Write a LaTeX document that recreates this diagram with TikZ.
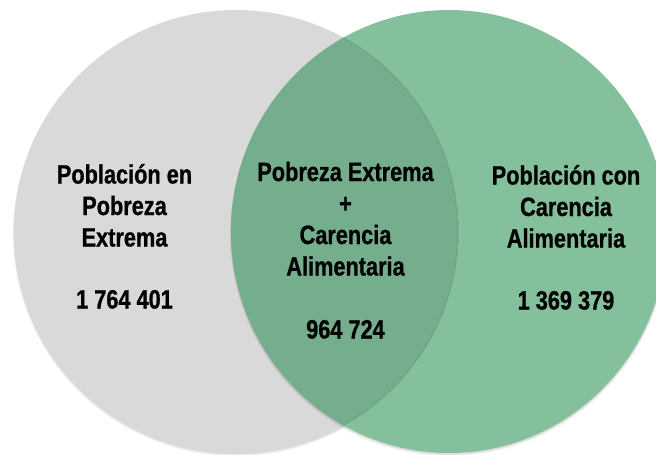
\documentclass[tikz,border=0pt]{standalone}
\usepackage{fontspec}
\setmainfont{Liberation Sans}[FakeStretch=0.82,BoldFeatures={FakeBold=0.8}]
\definecolor{grayfill}{HTML}{D9D9D9}
\definecolor{greenfill}{HTML}{85C09D}
\definecolor{overlapfill}{HTML}{74AE8D}
\begin{document}
\begin{tikzpicture}[x=1pt,y=-1pt,
  lbl/.style={font=\fontsize{26.5}{30}\selectfont\bfseries, inner sep=0pt, anchor=base, text=black},
  shadowring/.style={fill=black, opacity=0.05}]
\useasboundingbox (0,0) rectangle (656,455);
\clip (0,0) rectangle (656,455);
% soft shadows
\foreach \s in {1,2,3}{
  \fill[shadowring] (236,231.5+\s) ellipse [x radius=222pt+0.3pt*\s, y radius=221.5pt];
}
\fill[grayfill] (236,231.5) ellipse [x radius=222pt, y radius=221.5pt];
\foreach \s in {1,2,3}{
  \fill[shadowring] (449,231.5+\s) ellipse [x radius=218pt+0.3pt*\s, y radius=221.5pt];
}
\fill[greenfill] (449,231.5) ellipse [x radius=218pt, y radius=221.5pt];
\begin{scope}
  \clip (449,231.5) ellipse [x radius=218pt, y radius=221.5pt];
  \fill[overlapfill] (236,231.5) ellipse [x radius=222pt, y radius=221.5pt];
  \draw[black, opacity=0.07, line width=1.5pt] (236,231.5) ellipse [x radius=222pt, y radius=221.5pt];
\end{scope}
% left block
\node[lbl] (l1) at (124.5,183.5) {Población en};
\node[lbl] (l2) at (124.5,215) {Pobreza};
\node[lbl] (l3) at (124.5,246.5) {Extrema};
\node[lbl] (l4) at (124.5,308.5) {1 764 401};
% center block
\node[lbl] (c1) at (345.5,181) {Pobreza Extrema};
\node[lbl] (c2) at (345.5,212.5) {+};
\node[lbl] (c3) at (345.5,244) {Carencia};
\node[lbl] (c4) at (345.5,275.5) {Alimentaria};
\node[lbl] (c5) at (345.5,338.5) {964 724};
% right block
\node[lbl] (r1) at (566,184.5) {Población con};
\node[lbl] (r2) at (566,216) {Carencia};
\node[lbl] (r3) at (566,247.5) {Alimentaria};
\node[lbl] (r4) at (566,309.5) {1 369 379};
\end{tikzpicture}
\end{document}
